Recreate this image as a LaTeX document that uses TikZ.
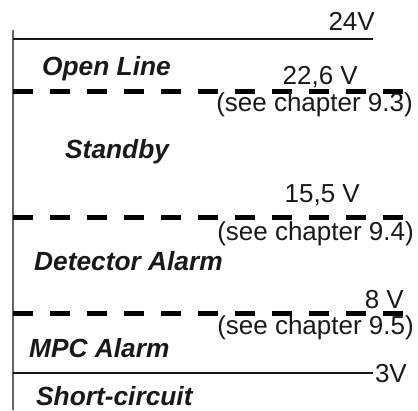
\documentclass[tikz,border=0pt]{standalone}
\usepackage{fontspec}
\setmainfont{Liberation Sans}
\begin{document}
\begin{tikzpicture}[x=1pt,y=-1pt,
  lbl/.style={font=\fontsize{26.3}{31}\selectfont\bfseries\itshape, inner sep=0pt, anchor=base west, text=black!90},
  val/.style={font=\fontsize{26}{31}\selectfont, inner sep=0pt, anchor=base east, text=black!90},
  dashline/.style={line width=5pt, dash pattern=on 20pt off 17pt, black},
  thinline/.style={line width=1.4pt, black!90},
  axisline/.style={line width=1.2pt, black!60}]
\useasboundingbox (0,0) rectangle (418,410);
% axis
\coordinate (axtop) at (13,30);
\coordinate (axbot) at (13,410);
\draw[axisline] (axtop) -- (axbot);
% limit lines
\coordinate (l24a) at (13,39);   \coordinate (l24b) at (373,39);
\coordinate (l3a) at (13,373);   \coordinate (l3b) at (373,373);
\draw[thinline] (l24a) -- (l24b);
\draw[thinline] (l3a) -- (l3b);
\coordinate (d1a) at (13,91);    \coordinate (d1b) at (405,91);
\coordinate (d2a) at (13,217);   \coordinate (d2b) at (405,217);
\coordinate (d3a) at (13,313.5); \coordinate (d3b) at (405,313.5);
\draw[dashline] (d1a) -- (d1b);
\draw[dashline] (d2a) -- (d2b);
\draw[dashline] (d3a) -- (d3b);
% values
\node[val] (v24) at (375,30) {24V};
\node[val] (v226) at (358,84) {22,6 V};
\node[val] (c93) at (413,111) {(see chapter 9.3)};
\node[val] (v155) at (360,202) {15,5 V};
\node[val] (c94) at (414,240) {(see chapter 9.4)};
\node[val] (v8) at (404,308) {8 V};
\node[val] (c95) at (414,334) {(see chapter 9.5)};
\node[val] (v3) at (407,382) {3V};
% states
\node[lbl] (open) at (42,75) {Open Line};
\node[lbl] (stb) at (65,158) {Standby};
\node[lbl] (det) at (34,270) {Detector Alarm};
\node[lbl] (mpc) at (29,357) {MPC Alarm};
\node[lbl] (sc) at (36,405) {Short-circuit};
\end{tikzpicture}
\end{document}
